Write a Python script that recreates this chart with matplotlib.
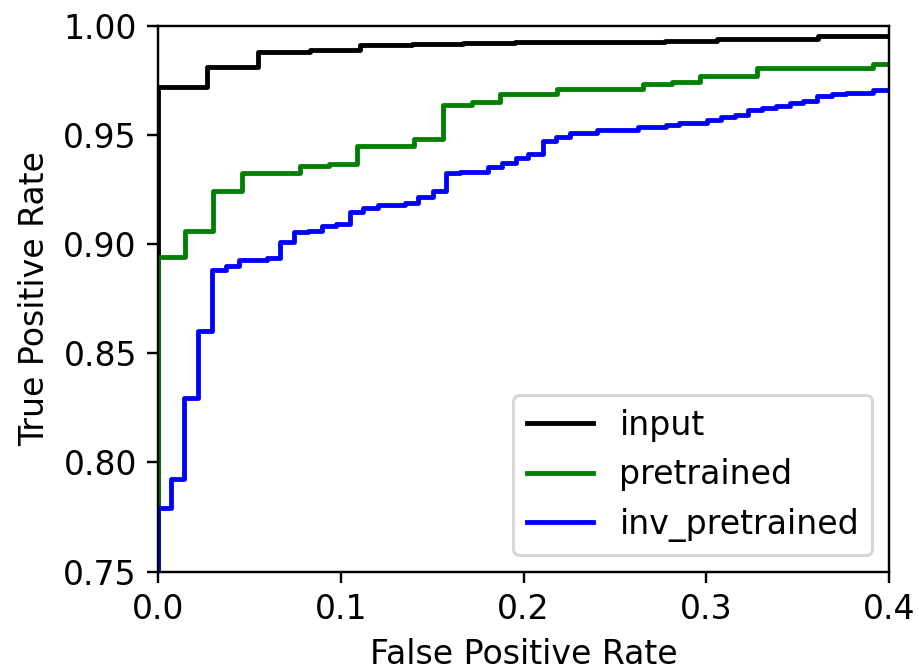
import matplotlib
matplotlib.use("Agg")
import matplotlib.pyplot as plt

# ROC step points (fpr, tpr)
input_fpr = [0.0, 0.0, 0.027, 0.027, 0.0549, 0.0549, 0.083, 0.083, 0.1105, 0.1105,
             0.1388, 0.1388, 0.167, 0.167, 0.1953, 0.1953, 0.2774, 0.2774,
             0.3057, 0.3057, 0.361, 0.361, 0.4]
input_tpr = [0.0, 0.9722, 0.9722, 0.981, 0.981, 0.9882, 0.9882, 0.989, 0.989, 0.9911,
             0.9911, 0.9916, 0.9916, 0.992, 0.992, 0.9925, 0.9925, 0.9933,
             0.9933, 0.9939, 0.9939, 0.9954, 0.9954]

pre_fpr = [0.0, 0.0, 0.0148, 0.0148, 0.0303, 0.0303, 0.0461, 0.0461, 0.0777, 0.0777,
           0.0937, 0.0937, 0.109, 0.109, 0.1403, 0.1403, 0.1558, 0.1558,
           0.1716, 0.1716, 0.1871, 0.1871, 0.2182, 0.2182, 0.2656, 0.2656,
           0.2811, 0.2811, 0.2966, 0.2966, 0.3279, 0.3279, 0.375, 0.375,
           0.391, 0.391, 0.4]
pre_tpr = [0.0, 0.8943, 0.8943, 0.9062, 0.9062, 0.9244, 0.9244, 0.9328, 0.9328, 0.936,
           0.936, 0.9368, 0.9368, 0.945, 0.945, 0.9484, 0.9484, 0.9638,
           0.9638, 0.9653, 0.9653, 0.9688, 0.9688, 0.9711, 0.9711, 0.9733,
           0.9733, 0.9745, 0.9745, 0.9771, 0.9771, 0.9806, 0.9806, 0.9809,
           0.9809, 0.9824, 0.9824]

inv_fpr = [0.0, 0.0, 0.0069, 0.0144, 0.0221, 0.0294, 0.0372, 0.0445, 0.0595, 0.0668,
           0.0746, 0.0823, 0.0899, 0.0974, 0.1051, 0.1124, 0.1202, 0.1352,
           0.1424, 0.1503, 0.1576, 0.1653, 0.1804, 0.1881, 0.1959, 0.2027,
           0.2105, 0.2178, 0.2254, 0.2404, 0.2628, 0.2778, 0.2853, 0.3006,
           0.3079, 0.3157, 0.323, 0.3307, 0.3382, 0.3458, 0.3531, 0.3604,
           0.3686, 0.3763, 0.3914, 0.4]
inv_tpr = [0.0, 0.779, 0.7923, 0.8294, 0.8602, 0.8882, 0.8902, 0.8928, 0.8937, 0.9009,
           0.9055, 0.9062, 0.9085, 0.9093, 0.9149, 0.9167, 0.918, 0.9187,
           0.9218, 0.9244, 0.9325, 0.9332, 0.9355, 0.9371, 0.9394, 0.9413,
           0.9474, 0.949, 0.9508, 0.9523, 0.9539, 0.9546, 0.9557, 0.9569,
           0.9584, 0.9592, 0.9615, 0.9626, 0.9633, 0.9649, 0.9656, 0.9679,
           0.9688, 0.9694, 0.9707, 0.9707]

plt.rcParams["font.size"] = 11

dpi = 217
fig = plt.figure(figsize=(919 / dpi, 669 / dpi), dpi=dpi)
ax = fig.add_axes([0.1719, 0.1457, 0.7955, 0.8154])

ax.plot(input_fpr, input_tpr, color="black", lw=1.6, label="input")
ax.plot(pre_fpr, pre_tpr, color="green", lw=1.6, label="pretrained")
ax.step(inv_fpr, inv_tpr, where="post", color="blue", lw=1.6, label="inv_pretrained")

ax.set_xlim(0, 0.4)
ax.set_ylim(0.75, 1.0)
ax.set_xticks([0.0, 0.1, 0.2, 0.3, 0.4])
ax.set_xlabel("False Positive Rate")
ax.set_ylabel("True Positive Rate")
ax.legend(loc="lower right")

fig.savefig("out.png", dpi=dpi)
